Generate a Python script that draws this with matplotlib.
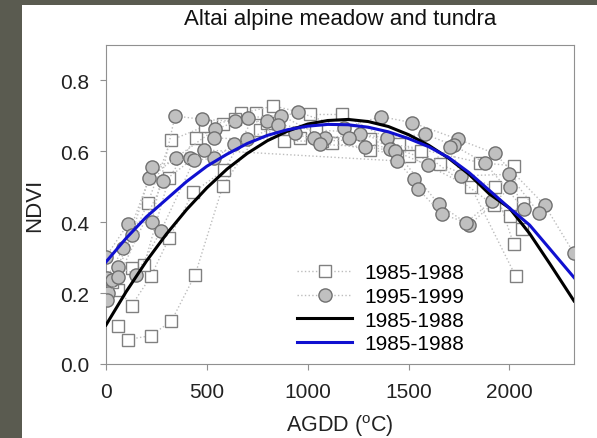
"""
NDVI vs AGDD, Altai alpine meadow and tundra
"""
import matplotlib
matplotlib.use('Agg')
import matplotlib.pyplot as plt
from matplotlib.patches import Rectangle

plt.rcParams['font.family'] = ['Liberation Sans', 'DejaVu Sans']
plt.rcParams['mathtext.fontset'] = 'custom'
plt.rcParams['mathtext.rm'] = 'Liberation Sans'

# observed points, 1985-1988 (squares), one list per year
sq_x = [
    [58, 108, 222, 324, 442, 579, 764, 963, 1120, 1310, 1500, 1811, 2030],
    [60, 127, 222, 313, 433, 587, 743, 880, 1070, 1310, 1658, 1927, 2021],
    [127, 189, 313, 445, 582, 670, 830, 1012, 1170, 1450, 1856, 2021, 2060],
    [30, 207, 321, 491, 640, 800, 1040, 1220, 1560, 1922, 2005, 2066],
]
sq_y = [
    [0.108, 0.069, 0.080, 0.121, 0.252, 0.502, 0.660, 0.638, 0.624, 0.604, 0.587, 0.498, 0.249],
    [0.210, 0.165, 0.247, 0.355, 0.485, 0.547, 0.707, 0.629, 0.629, 0.634, 0.563, 0.498, 0.338],
    [0.270, 0.280, 0.526, 0.638, 0.676, 0.707, 0.728, 0.704, 0.704, 0.620, 0.568, 0.559, 0.380],
    [0.230, 0.454, 0.631, 0.671, 0.690, 0.680, 0.660, 0.655, 0.600, 0.448, 0.418, 0.455],
]

# observed points, 1995-1999 (circles)
ci_x = [
    [0, 108, 227, 342, 478, 640, 797, 951, 1178, 1363, 1517, 1745, 1927, 2175, 2319],
    [3, 86, 215, 347, 541, 703, 867, 1087, 1257, 1393, 1583, 1723, 1881, 2071],
    [28, 127, 230, 417, 533, 698, 855, 1029, 1203, 1406, 1595, 1707, 1762, 1997, 2145],
    [12, 61, 149, 271, 437, 533, 637, 938, 1060, 1285, 1434, 1649, 1801, 2005],
    [7, 61, 284, 488, 1443, 1525, 1545, 1666, 1785, 1914],
]
ci_y = [
    [0.303, 0.394, 0.402, 0.700, 0.690, 0.685, 0.685, 0.711, 0.667, 0.698, 0.681, 0.634, 0.594, 0.448, 0.313],
    [0.242, 0.327, 0.526, 0.582, 0.662, 0.695, 0.701, 0.638, 0.648, 0.638, 0.648, 0.617, 0.566, 0.437],
    [0.236, 0.364, 0.557, 0.582, 0.638, 0.634, 0.673, 0.638, 0.638, 0.607, 0.561, 0.611, 0.531, 0.535, 0.427],
    [0.200, 0.275, 0.252, 0.374, 0.575, 0.580, 0.620, 0.653, 0.620, 0.613, 0.601, 0.451, 0.392, 0.498],
    [0.181, 0.245, 0.515, 0.604, 0.573, 0.521, 0.495, 0.423, 0.399, 0.460],
]

# fitted curves
fit_x = [0, 100, 200, 300, 400, 500, 600, 700, 800, 900, 1000, 1100, 1200,
         1300, 1400, 1500, 1600, 1700, 1800, 1900, 2000, 2100, 2200, 2320]
fit_black = [0.110, 0.204, 0.290, 0.367, 0.436, 0.497, 0.550, 0.594, 0.630, 0.657, 0.677, 0.687,
             0.690, 0.684, 0.670, 0.647, 0.617, 0.580, 0.535, 0.480, 0.440, 0.368, 0.283, 0.178]
fit_blue = [0.288, 0.355, 0.415, 0.465, 0.515, 0.558, 0.592, 0.622, 0.645, 0.661, 0.671, 0.676,
            0.675, 0.668, 0.655, 0.636, 0.613, 0.582, 0.540, 0.490, 0.440, 0.392, 0.325, 0.244]

labels = ['1985-1988', '1995-1999', '1985-1988', '1985-1988']

fig = plt.figure(figsize=(5.97, 4.39), dpi=100, facecolor='#5a5b50')
fig.patches.append(Rectangle((22 / 597, 0), 1 - 22 / 597, 433 / 439,
                             transform=fig.transFigure, facecolor='white',
                             edgecolor='none', zorder=-1))
ax = fig.add_axes([106 / 597, 74 / 439, 468 / 597, 319 / 439])

dot = dict(color='#bdbdbd', linestyle=':', linewidth=1.0)
for i, (x, y) in enumerate(zip(sq_x, sq_y)):
    ax.plot(x, y, marker='s', markersize=8, markerfacecolor='white',
            markeredgecolor='#808080', markeredgewidth=1.0,
            label=labels[0] if i == 0 else None, zorder=2, **dot)
for i, (x, y) in enumerate(zip(ci_x, ci_y)):
    ax.plot(x, y, marker='o', markersize=9.5, markerfacecolor='#c0c0c0',
            markeredgecolor='#707070', markeredgewidth=1.0,
            label=labels[1] if i == 0 else None, zorder=3, **dot)

ax.plot(fit_x, fit_black, color='black', linewidth=2.2, label=labels[2], zorder=4)
ax.plot(fit_x, fit_blue, color='#1010d0', linewidth=2.2, label=labels[3], zorder=5)

ax.set_xlim(0, 2320)
ax.set_ylim(0, 0.9)
ax.set_xticks([0, 500, 1000, 1500, 2000])
ax.set_yticks([0.0, 0.2, 0.4, 0.6, 0.8])
ax.set_yticklabels(['0.0', '0.2', '0.4', '0.6', '0.8'])
for s in ax.spines.values():
    s.set_color('#909090')
ax.tick_params(direction='out', length=4, color='#909090', labelsize=15,
               labelcolor='#222222')
ax.tick_params(axis='y', pad=8)
ax.tick_params(axis='x', pad=9)

fig.text(340 / 597, 420 / 439, 'Altai alpine meadow and tundra', ha='center',
         va='center', fontsize=16, color='#111111')
ax.set_xlabel('AGDD ($\\rm ^{o}$C)', fontsize=15.5, color='#222222')
ax.xaxis.set_label_coords(0.5, -0.15)
ax.set_ylabel('NDVI', fontsize=16, color='#222222')
ax.yaxis.set_label_coords(-0.13, 0.5)

ax.legend(loc='lower right', bbox_to_anchor=(0.805, -0.025), frameon=False,
          fontsize=15, handlelength=2.6, handletextpad=0.6, labelspacing=0.22)

fig.savefig('out.png', dpi=100, facecolor=fig.get_facecolor())
